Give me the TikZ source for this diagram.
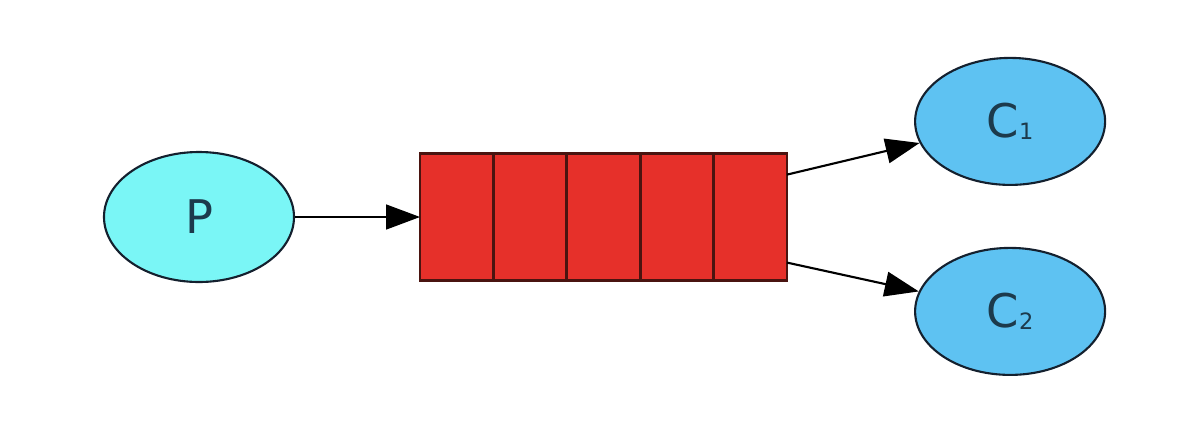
\documentclass[tikz,border=0pt]{standalone}
\usepackage{fontspec}
\setmainfont{DejaVu Sans}
\usetikzlibrary{arrows.meta,positioning,shapes.geometric}

\definecolor{pfill}{HTML}{7AF6F6}
\definecolor{cfill}{HTML}{5EC2F2}
\definecolor{qfill}{HTML}{E6302A}
\definecolor{qline}{HTML}{4A1410}
\definecolor{eline}{HTML}{14202E}
\definecolor{txt}{HTML}{1C3A4C}

\newcommand{\sub}[1]{\raisebox{-1.5pt}{\fontsize{16}{16}\selectfont #1}}

\begin{document}
\begin{tikzpicture}[
      myellipse/.style={
         ellipse,
         draw=eline,
         line width=1.5pt,
         inner sep=0pt,
         minimum width=4.75cm,
         text=txt,
         font=\fontsize{33}{36}\selectfont},
      mycell/.style={
         rectangle,
         draw=qline,
         fill=qfill,
         line width=2pt,
         outer sep=0pt,
         minimum width=1.835cm,
         minimum height=3.175cm},
      myarrow/.style={-{Triangle[length=0.85cm,width=0.62cm]}, line width=1.5pt},
      node distance=3.125cm
      ]
\useasboundingbox (-4.975,-5.475) rectangle (24.525,5.425);

\node[myellipse,fill=pfill,minimum height=3.25cm] (p) {P};

\node[mycell,right=of p ] (q1) {};
\node[mycell,right=0pt of q1] (q2) {};
\node[mycell,right=0pt of q2] (q3) {};
\node[mycell,right=0pt of q3] (q4) {};
\node[mycell,right=0pt of q4] (q5) {};

\node[myellipse,fill=cfill,minimum height=3.175cm,right=3.175cm of q5,yshift=2.39cm ] (c1) {C\sub{1}};
\node[myellipse,fill=cfill,minimum height=3.175cm,right=3.175cm of q5,yshift=-2.36cm] (c2) {C\sub{2}};

\coordinate (q5top) at ([yshift=1.06cm]q5.east);
\coordinate (q5bot) at ([yshift=-1.14cm]q5.east);

\foreach \i/\j in {% start node/end node
      p/q1, q5top/c1, q5bot/c2}
       \draw[myarrow] (\i) -- (\j);

\end{tikzpicture}
\end{document}
